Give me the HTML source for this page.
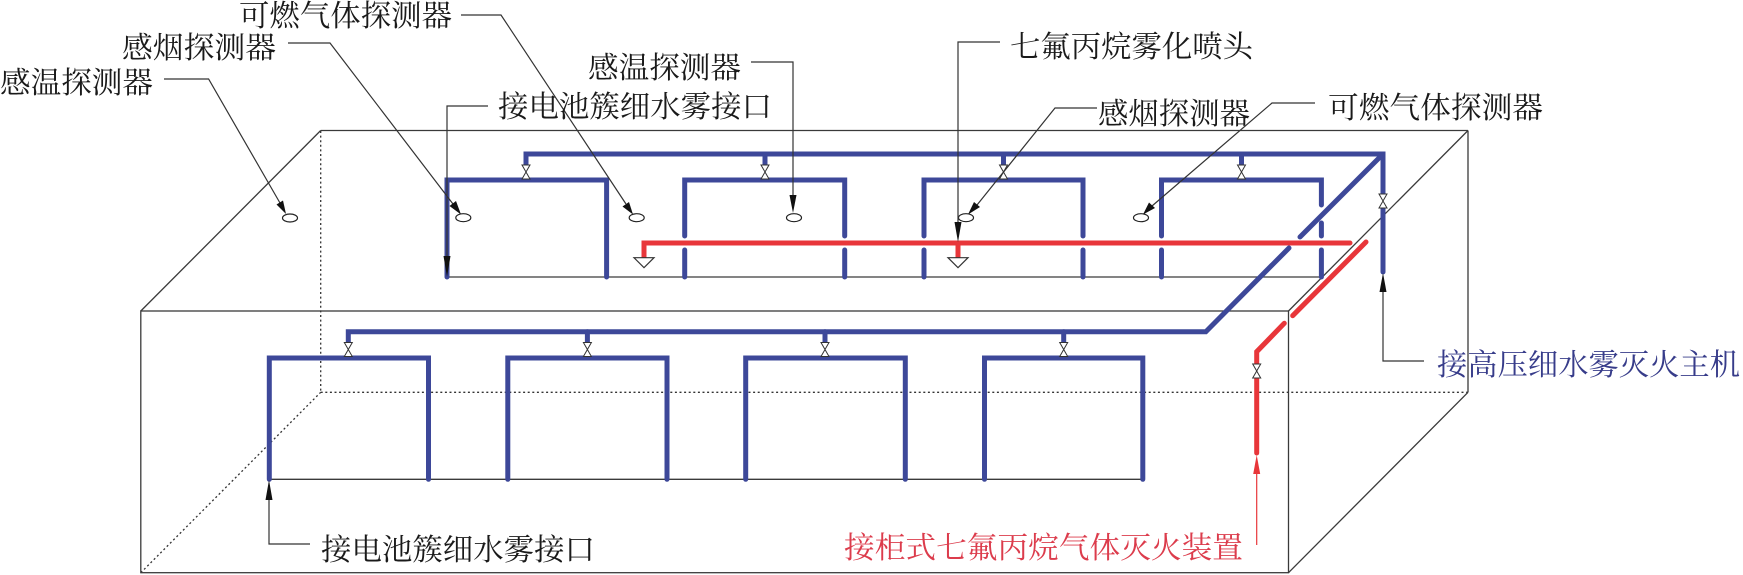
<!DOCTYPE html>
<html><head><meta charset="utf-8"><style>
html,body{margin:0;padding:0;background:#fff;}
svg{display:block;}
text{font-family:"Liberation Serif","Noto Serif CJK SC","Noto Sans CJK SC",serif;font-size:30px;}
</style></head><body>
<svg width="1743" height="575" viewBox="0 0 1743 575" xmlns="http://www.w3.org/2000/svg">
<defs>
<g id="valve">
<polygon points="-4,-7 4,-7 0,0" fill="#ffffff" stroke="#333" stroke-width="1"/>
<polygon points="-4,7 4,7 0,0" fill="#ffffff" stroke="#333" stroke-width="1"/>
</g>
</defs>

<!-- box: hidden dotted lines -->
<g stroke="#333" stroke-width="1.3" fill="none" stroke-dasharray="2 2.6">
<line x1="320.7" y1="131" x2="320.7" y2="392.3"/>
<line x1="320.7" y1="392.3" x2="1468" y2="392.3"/>
<line x1="140.8" y1="572.7" x2="320.7" y2="392.3"/>
</g>
<!-- box: solid lines -->
<g stroke="#3a3a3a" stroke-width="1.3" fill="none">
<line x1="320.7" y1="130.5" x2="1468" y2="130.5"/>
<line x1="1468" y1="130.5" x2="1468" y2="392.3"/>
<line x1="140.8" y1="311" x2="320.7" y2="130.5"/>
<line x1="1288.5" y1="311" x2="1468" y2="130.5"/>
<line x1="1288.5" y1="572.7" x2="1468" y2="392.3"/>
<rect x="140.8" y="311" width="1147.7" height="261.7"/>
<line x1="447" y1="277" x2="1321.4" y2="277"/>
<line x1="269" y1="479.3" x2="1142.6" y2="479.3"/>
</g>

<!-- blue pipes -->
<g stroke="#3d4899" stroke-width="5" fill="none" stroke-linecap="round" stroke-linejoin="miter">
<!-- upper main -->
<path d="M526,165 L526,154 L1383,154 L1383,194"/>
<line x1="1383" y1="208" x2="1383" y2="272"/>
<line x1="1383" y1="154" x2="1300" y2="237"/>
<path d="M1289,248 L1205.8,331.7 L348.3,331.7 L348.3,342"/>
<!-- upper drops -->
<line x1="765" y1="154" x2="765" y2="165"/>
<line x1="1003.5" y1="154" x2="1003.5" y2="165"/>
<line x1="1241.5" y1="154" x2="1241.5" y2="165"/>
<!-- lower drops -->
<line x1="587.4" y1="331.7" x2="587.4" y2="342"/>
<line x1="825" y1="331.7" x2="825" y2="342"/>
<line x1="1063.7" y1="331.7" x2="1063.7" y2="342"/>

<!-- upper branches -->
<path d="M447,277 L447,180 L606.6,180 L606.6,277"/>
<path d="M684.7,236 L684.7,180 L844.7,180 L844.7,236"/>
<line x1="684.7" y1="250" x2="684.7" y2="277"/>
<line x1="844.7" y1="250" x2="844.7" y2="277"/>
<path d="M924,236 L924,180 L1083,180 L1083,236"/>
<line x1="924" y1="250" x2="924" y2="277"/>
<line x1="1083" y1="250" x2="1083" y2="277"/>
<path d="M1161.5,236 L1161.5,180 L1321.4,180 L1321.4,205"/>
<line x1="1161.5" y1="250" x2="1161.5" y2="277"/>
<line x1="1321.4" y1="223" x2="1321.4" y2="236"/>
<line x1="1321.4" y1="250" x2="1321.4" y2="277"/>

<!-- lower branches -->
<path d="M269.3,479.3 L269.3,358 L428.5,358 L428.5,479.3"/>
<path d="M507.8,479.3 L507.8,358 L667,358 L667,479.3"/>
<path d="M745.7,479.3 L745.7,358 L905.3,358 L905.3,479.3"/>
<path d="M984.5,479.3 L984.5,358 L1142.8,358 L1142.8,479.3"/>
</g>

<!-- red pipes -->
<g stroke="#e8363a" stroke-width="5" fill="none" stroke-linecap="round">
<path d="M644,257 L644,243 L1350,243"/>
<line x1="958" y1="243" x2="958" y2="257"/>
<line x1="1366" y1="242" x2="1292.7" y2="315.7"/>
<path d="M1284.3,323.3 L1256.7,351.7 L1256.7,364"/>
<line x1="1256.7" y1="378" x2="1256.7" y2="453"/>
</g>

<!-- valves -->
<use href="#valve" x="526" y="172"/>
<use href="#valve" x="765" y="172"/>
<use href="#valve" x="1003.5" y="172"/>
<use href="#valve" x="1241.5" y="172"/>
<use href="#valve" x="348.3" y="349.5"/>
<use href="#valve" x="587.4" y="349.5"/>
<use href="#valve" x="825" y="349.5"/>
<use href="#valve" x="1063.7" y="349.5"/>
<use href="#valve" x="1383" y="201"/>
<use href="#valve" x="1256.7" y="371"/>

<!-- nozzles -->
<g fill="#fff" stroke="#333" stroke-width="1.2">
<polygon points="634,257.7 654,257.7 644,267.7"/>
<polygon points="948,257.7 968,257.7 958,267.7"/>
</g>

<!-- detectors -->
<g fill="none" stroke="#222" stroke-width="1.2">
<ellipse cx="290" cy="218" rx="7.5" ry="4"/>
<ellipse cx="463.3" cy="217.7" rx="7.5" ry="4"/>
<ellipse cx="636.7" cy="217.7" rx="7.5" ry="4"/>
<ellipse cx="794" cy="217.7" rx="7.5" ry="4"/>
<ellipse cx="966" cy="217.7" rx="7.5" ry="4"/>
<ellipse cx="1141" cy="217.7" rx="7.5" ry="4"/>
</g>

<!-- leader lines -->
<g stroke="#333" stroke-width="1.2" fill="none">
<polyline points="164,79 208.6,79 280,203"/>
<polyline points="288,43 330,43 453,204"/>
<polyline points="461,15 501,15 626,204"/>
<polyline points="751,62 793,62 793,198"/>
<polyline points="1000,42 958,42 958,224"/>
<polyline points="1097,108 1055,108 977,205"/>
<polyline points="1315,103 1272,103 1152,206"/>
<polyline points="488,106 447,106 447,258"/>
<polyline points="1424,361 1383,361 1383,290"/>
<polyline points="310,544 269,544 269,498"/>
</g>
<line x1="1256.7" y1="470" x2="1256.7" y2="545" stroke="#e8363a" stroke-width="1.2"/>

<!-- arrowheads -->
<g fill="#111" stroke="none">
<polygon points="286,214 276.5,204.5 283,200.5"/>
<polygon points="461,214.5 449.5,206 456,201"/>
<polygon points="633,214.5 622.5,206.5 629,202"/>
<polygon points="793,213 789.5,195 796.5,195"/>
<polygon points="958,242 954.5,222 961.5,222"/>
<polygon points="968,214.5 974,202 980,207"/>
<polygon points="1143,214.5 1149,202.5 1155,208"/>
<polygon points="447,277 443.5,256 450.5,256"/>
<polygon points="1383,273 1379.5,292 1386.5,292"/>
<polygon points="269,480 265.5,500 272.5,500"/>
</g>
<polygon points="1256.7,455 1253.2,474 1260.2,474" fill="#e8363a"/>

<!-- labels -->
<g fill="#1a1a1a">
<text x="0" y="93" textLength="153" lengthAdjust="spacingAndGlyphs">感温探测器</text>
<text x="122" y="58" textLength="154" lengthAdjust="spacingAndGlyphs">感烟探测器</text>
<text x="239" y="26" textLength="213" lengthAdjust="spacingAndGlyphs">可燃气体探测器</text>
<text x="498" y="117" textLength="274" lengthAdjust="spacingAndGlyphs">接电池簇细水雾接口</text>
<text x="588" y="78" textLength="153" lengthAdjust="spacingAndGlyphs">感温探测器</text>
<text x="1010" y="57" textLength="243" lengthAdjust="spacingAndGlyphs">七氟丙烷雾化喷头</text>
<text x="1098" y="124" textLength="152" lengthAdjust="spacingAndGlyphs">感烟探测器</text>
<text x="1328" y="118" textLength="215" lengthAdjust="spacingAndGlyphs">可燃气体探测器</text>
<text x="321" y="560" textLength="274" lengthAdjust="spacingAndGlyphs">接电池簇细水雾接口</text>
</g>
<text x="1437" y="375" textLength="303" lengthAdjust="spacingAndGlyphs" fill="#373c8a">接高压细水雾灭火主机</text>
<text x="844" y="558" textLength="399" lengthAdjust="spacingAndGlyphs" fill="#dc3c4c">接柜式七氟丙烷气体灭火装置</text>
</svg>
</body></html>
